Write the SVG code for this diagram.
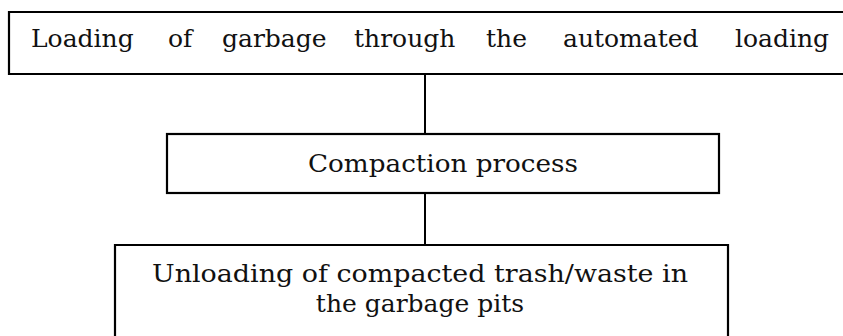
<svg xmlns="http://www.w3.org/2000/svg" width="843" height="336" viewBox="0 0 843 336">
<style>
.box{fill:none;stroke:#000;stroke-width:2.2}
.t{font-family:"DejaVu Serif","Liberation Serif",serif;font-size:25px;fill:#111}
.c{stroke:#000;stroke-width:2;fill:none}
</style>
<rect width="843" height="336" fill="#fff"/>
<g id="node-loading">
<path class="box" d="M850 12 H9 V74 H850"/>
<text class="t" y="47"><tspan x="31">Loading</tspan><tspan x="168">of</tspan><tspan x="222">garbage</tspan><tspan x="354">through</tspan><tspan x="486">the</tspan><tspan x="563">automated</tspan><tspan x="735">loading</tspan></text>
</g>
<g id="node-compaction">
<rect class="box" x="167" y="134" width="552" height="59"/>
<text class="t" x="443" y="172" text-anchor="middle" textLength="270" lengthAdjust="spacingAndGlyphs">Compaction process</text>
</g>
<g id="node-unloading">
<path class="box" d="M115 340 V245 H728 V340"/>
<text class="t" x="420" y="282" text-anchor="middle" textLength="536" lengthAdjust="spacingAndGlyphs">Unloading of compacted trash/waste in</text>
<text class="t" x="420" y="312" text-anchor="middle">the garbage pits</text>
</g>
<g id="connectors">
<line class="c" x1="425" y1="74" x2="425" y2="134"/>
<line class="c" x1="425" y1="193" x2="425" y2="245"/>
</g>
</svg>
